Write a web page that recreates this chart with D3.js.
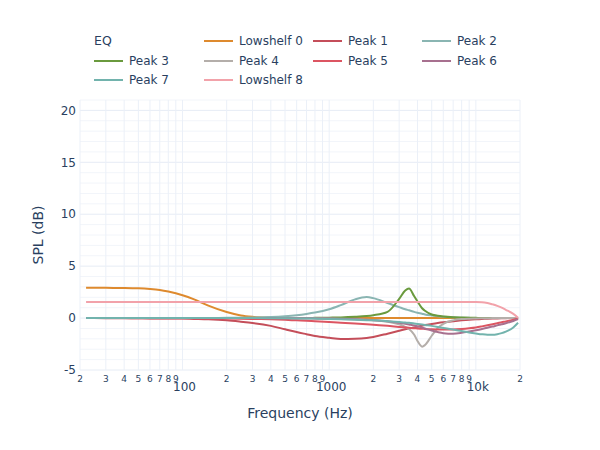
<!DOCTYPE html>
<html>
<head>
<meta charset="utf-8">
<script src="https://cdn.jsdelivr.net/npm/d3@7"></script>
<style>
  html, body { margin: 0; padding: 0; background: #fff; }
  svg { display: block; font-family: "DejaVu Sans", Verdana, sans-serif; }
</style>
</head>
<body>
<svg id="chart" width="600" height="450"></svg>
<script>
// ---- data ----
const freqs = [22, 25, 30, 40, 50, 60, 70, 80, 100, 120, 150, 200, 250, 300, 400, 500, 600, 700, 800, 1000,
  1200, 1500, 1800, 2000, 2500, 3000, 3300, 3500, 3800, 4000, 4300, 4500, 5000, 5500, 6000, 7000, 8000, 9000, 10000, 11000,
  12000, 13000, 14000, 15000, 16000, 18000, 19400];

const seriesNames = ["Lowshelf 0", "Peak 1", "Peak 2", "Peak 3", "Peak 4", "Peak 5", "Peak 6", "Peak 7", "Lowshelf 8"];

const lowshelf0 = [2.92,2.92,2.91,2.9,2.87,2.8,2.7,2.55,2.2,1.8, 1.2,0.58,0.25,0.12,0.04,0.01,0,0,0,0,
  0,0,0,0,0,0,0,0,0,0, 0,0,0,0,0,0,0,0,0,0, 0,0,0,0,0,0,0];
const peak1 = [0,0,-0.01,-0.01,-0.02,-0.03,-0.03,-0.04,-0.05,-0.08, -0.12,-0.22,-0.35,-0.47,-0.75,-1.08,-1.35,-1.55,-1.72,-1.9,
  -2.02,-2.0,-1.92,-1.82,-1.5,-1.22,-1.08,-1.0,-0.9,-0.83, -0.73,-0.67,-0.56,-0.47,-0.4,-0.3,-0.22,-0.16,-0.12,-0.09,
  -0.06,-0.04,-0.03,-0.02,-0.01,0,0];
const peak2 = [0,0,0,0,0,0,0,0,0,0.01, 0.01,0.02,0.03,0.05,0.1,0.18,0.28,0.4,0.53,0.85,
  1.25,1.8,2.02,1.92,1.45,1.05,0.85,0.75,0.6,0.52, 0.42,0.35,0.25,0.18,0.13,0.07,0.04,0.02,0.01,0.01,
  0.01,0,0,0,0,0,0];
const peak3 = [0,0,0,0,0,0,0,0,0,0, 0,0,0,0,0,0,0.01,0.01,0.02,0.04,
  0.06,0.12,0.2,0.28,0.6,1.85,2.65,2.85,2.1,1.6, 0.95,0.7,0.35,0.22,0.15,0.08,0.05,0.03,0.02,0.01,
  0.01,0,0,0,0,0,0];
const peak4 = [0,0,0,0,0,0,0,0,0,0, 0,0,0,0,0,0,0,-0.01,-0.02,-0.04,
  -0.06,-0.1,-0.16,-0.2,-0.35,-0.6,-0.85,-1.05,-1.6,-2.2, -2.75,-2.6,-1.7,-0.95,-0.55,-0.22,-0.1,-0.06,-0.04,-0.02,
  -0.01,0,0,0,0,0,0];
const peak5 = [0,0,0,0,-0.01,-0.01,-0.01,-0.02,-0.02,-0.03, -0.04,-0.05,-0.06,-0.08,-0.12,-0.17,-0.22,-0.26,-0.3,-0.37,
  -0.44,-0.52,-0.6,-0.65,-0.75,-0.85,-0.9,-0.93,-0.97,-1.0, -1.03,-1.05,-1.08,-1.1,-1.11,-1.1,-1.05,-0.98,-0.9,-0.8,
  -0.7,-0.6,-0.5,-0.4,-0.32,-0.15,-0.03];
const peak6 = [0,0,0,0,0,0,0,0,0,0, 0,0,0,0,0,-0.01,-0.01,-0.02,-0.03,-0.05,
  -0.08,-0.12,-0.17,-0.2,-0.3,-0.45,-0.55,-0.62,-0.72,-0.8, -0.92,-1.0,-1.2,-1.35,-1.45,-1.5,-1.42,-1.3,-1.18,-1.05,
  -0.93,-0.82,-0.7,-0.6,-0.5,-0.28,-0.1];
const peak7 = [0,0,0,0,0,0,0,0,0,0, 0,0,0,0,-0.01,-0.02,-0.03,-0.04,-0.05,-0.08,
  -0.11,-0.15,-0.2,-0.22,-0.3,-0.38,-0.43,-0.46,-0.52,-0.56, -0.62,-0.66,-0.75,-0.85,-0.95,-1.1,-1.25,-1.38,-1.48,-1.56,
  -1.6,-1.6,-1.55,-1.45,-1.3,-0.9,-0.45];
const lowshelf8 = [1.55,1.55,1.55,1.55,1.55,1.55,1.55,1.55,1.55,1.55, 1.55,1.55,1.55,1.55,1.55,1.55,1.55,1.55,1.55,1.55,
  1.55,1.55,1.55,1.55,1.55,1.55,1.55,1.55,1.55,1.55, 1.55,1.55,1.55,1.55,1.55,1.55,1.55,1.55,1.55,1.53,
  1.45,1.32,1.18,1.0,0.8,0.4,0.04];

const seriesValues = [lowshelf0, peak1, peak2, peak3, peak4, peak5, peak6, peak7, lowshelf8];
const seriesColors = ["#de8a2e", "#c44e5a", "#8ab5b2", "#6a9a3e", "#b4aeaa", "#dc5562", "#a7708f", "#72b3ad", "#f2a2aa"];

const yMajorTicks = [-5, 0, 5, 10, 15, 20];
const xMajorTicks = [100, 1000, 10000];
const xMajorLabels = ["100", "1000", "10k"];
const xDigitTicks = [20,30,40,50,60,70,80,90, 200,300,400,500,600,700,800,900, 2000,3000,4000,5000,6000,7000,8000,9000, 20000];
const legendTitle = "EQ";
const xTitle = "Frequency (Hz)";
const yTitle = "SPL (dB)";

// ---- layout ----
const W = 600, H = 450;
const plot = { left: 80, right: 520, top: 100, bottom: 370 };
const textColor = "#2a3f5f";

const svg = d3.select("#chart");
const x = d3.scaleLog().domain([20, 20000]).range([plot.left, plot.right]);
const y = d3.scaleLinear().domain([-5, 21]).range([plot.bottom, plot.top]);

// grid
const grid = svg.append("g");
const yMinor = d3.range(-5, 22, 1).filter(v => v % 5 !== 0);
grid.selectAll("line.ymin").data(yMinor).enter().append("line")
  .attr("x1", plot.left).attr("x2", plot.right)
  .attr("y1", d => y(d)).attr("y2", d => y(d))
  .attr("stroke", "#f2f5fa").attr("stroke-width", 1);
grid.selectAll("line.ymaj").data(yMajorTicks).enter().append("line")
  .attr("x1", plot.left).attr("x2", plot.right)
  .attr("y1", d => y(d)).attr("y2", d => y(d))
  .attr("stroke", "#e6ecf5").attr("stroke-width", 1);
grid.selectAll("line.xg").data(xDigitTicks.concat(xMajorTicks)).enter().append("line")
  .attr("x1", d => x(d)).attr("x2", d => x(d))
  .attr("y1", plot.top).attr("y2", plot.bottom)
  .attr("stroke", "#ebf0f8").attr("stroke-width", 1);

// y axis labels
svg.append("g").selectAll("text").data(yMajorTicks).enter().append("text")
  .attr("x", 76).attr("y", d => y(d)).attr("dy", "0.35em")
  .attr("text-anchor", "end").attr("font-size", 12).attr("fill", textColor)
  .text(d => d);

// x axis labels
const digitLabel = d => String(Math.round(d / Math.pow(10, Math.floor(Math.log10(d) + 1e-9))));
svg.append("g").selectAll("text").data(xDigitTicks).enter().append("text")
  .attr("x", d => x(d)).attr("y", 382)
  .attr("text-anchor", "middle").attr("font-size", 9).attr("fill", textColor)
  .text(digitLabel);
svg.append("g").selectAll("text").data(xMajorTicks).enter().append("text")
  .attr("x", (d) => x(d) + 2).attr("y", 391)
  .attr("text-anchor", "middle").attr("font-size", 12).attr("fill", textColor)
  .text((d, i) => xMajorLabels[i]);

// axis titles
svg.append("text").attr("x", (plot.left + plot.right) / 2).attr("y", 418)
  .attr("text-anchor", "middle").attr("font-size", 14).attr("fill", textColor).text(xTitle);
svg.append("text").attr("transform", `translate(43,${(plot.top + plot.bottom) / 2}) rotate(-90)`)
  .attr("text-anchor", "middle").attr("font-size", 14).attr("fill", textColor).text(yTitle);

// lines
const line = d3.line()
  .x(d => x(d[0])).y(d => y(d[1]))
  .curve(d3.curveMonotoneX);
const lines = svg.append("g");
seriesValues.forEach((vals, i) => {
  lines.append("path")
    .datum(freqs.map((f, j) => [f, vals[j]]))
    .attr("d", line)
    .attr("fill", "none")
    .attr("stroke", seriesColors[i])
    .attr("stroke-width", 2)
    .attr("stroke-linejoin", "round");
});

// legend
const legend = svg.append("g");
const colX = [94, 204, 313, 422];
const rowY = [41, 61, 80];
legend.append("text").attr("x", colX[0]).attr("y", rowY[0]).attr("dy", "0.35em")
  .attr("font-size", 12.5).attr("fill", textColor).text(legendTitle);
seriesNames.forEach((name, i) => {
  const slot = i + 1;
  const cx = colX[slot % 4], cy = rowY[Math.floor(slot / 4)];
  legend.append("line").attr("x1", cx).attr("x2", cx + 29).attr("y1", cy).attr("y2", cy)
    .attr("stroke", seriesColors[i]).attr("stroke-width", 2);
  legend.append("text").attr("x", cx + 35).attr("y", cy).attr("dy", "0.35em")
    .attr("font-size", 12).attr("fill", textColor).text(name);
});
</script>
</body>
</html>
